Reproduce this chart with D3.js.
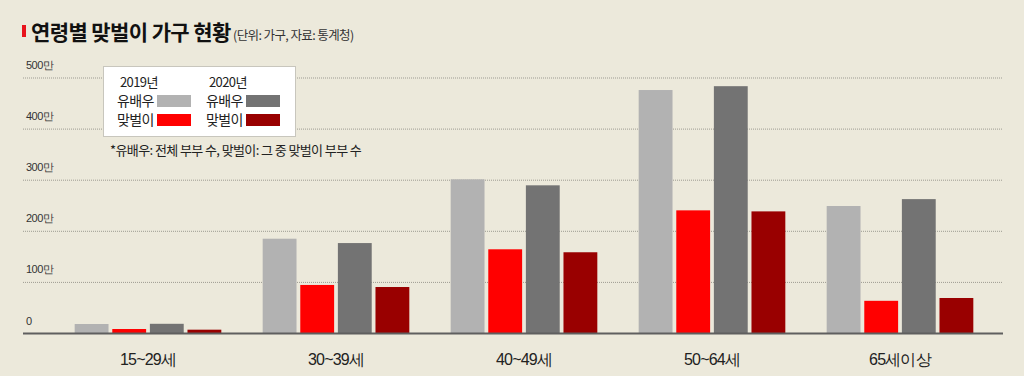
<!DOCTYPE html>
<html>
<head>
<meta charset="utf-8">
<script src="https://cdn.jsdelivr.net/npm/d3@7"></script>
<style>
  body { margin: 0; background: #ECE9DB; }
  svg { display: block; font-family: "Noto Sans CJK KR", "Noto Sans", sans-serif; }
</style>
</head>
<body>
<div class="chart"></div>
<script>
// data (단위: 만 가구)
const categories = ["15~29세", "30~39세", "40~49세", "50~64세", "65세이상"];
const series = ["유배우2019", "맞벌이2019", "유배우2020", "맞벌이2020"];
const married2019 = [17.6, 184.5, 300.8, 475.5, 248.5];
const dual2019 = [7.8, 94, 163.8, 240, 63];
const married2020 = [18, 176, 289, 483, 262];
const dual2020 = [6.5, 90, 158, 238, 68.5];
const yTicks = [0, 100, 200, 300, 400, 500];
const colors = ["#B2B2B2", "#FF0000", "#737373", "#990000"];

const rows = categories.map((c, i) => ({
    cat: c,
    values: [married2019[i], dual2019[i], married2020[i], dual2020[i]]
}));

// size
const w = 1024, h = 376;
const gridLeft = 23, gridRight = 1003, baseY = 333;

const svg = d3.select("div.chart")
    .append("svg")
    .attr("width", w)
    .attr("height", h);

svg.append("rect")
    .attr("width", w).attr("height", h)
    .attr("fill", "#ECE9DB");

// scales
const x0 = d3.scaleBand()
    .domain(categories)
    .range([54, 994])
    .paddingInner(0.22)
    .paddingOuter(0.11);

const x1 = d3.scaleBand()
    .domain(series)
    .range([0, x0.bandwidth()])
    .paddingInner(0.1);

const yScale = d3.scaleLinear()
    .domain([0, 500])
    .range([baseY, 77.5]);

// grid + tick labels
const yAxis = d3.axisLeft(yScale)
    .tickValues(yTicks)
    .tickSize(-(gridRight - gridLeft))
    .tickFormat(d => d === 0 ? "0" : d + "만");

const gy = svg.append("g")
    .attr("transform", "translate(" + gridLeft + ",0)")
    .call(yAxis);
gy.select(".domain").remove();
gy.selectAll(".tick line")
    .attr("stroke", "#9d9b92")
    .attr("stroke-width", 1)
    .attr("stroke-dasharray", "1,1");
gy.selectAll(".tick text")
    .attr("x", 3)
    .attr("dy", -9)
    .attr("text-anchor", "start")
    .attr("fill", "#333")
    .style("font-size", "11px")
    .style("letter-spacing", "-0.5px");

// bars
const groups = svg.selectAll("g.group")
    .data(rows)
    .enter()
    .append("g")
    .attr("class", "group")
    .attr("transform", d => "translate(" + x0(d.cat) + ",0)");

groups.selectAll("rect")
    .data(d => d.values.map((v, i) => ({ key: series[i], v: v, i: i })))
    .enter()
    .append("rect")
    .attr("x", d => x1(d.key))
    .attr("y", d => yScale(d.v))
    .attr("width", x1.bandwidth())
    .attr("height", d => baseY - yScale(d.v))
    .attr("fill", d => colors[d.i]);

// baseline
svg.append("line")
    .attr("x1", gridLeft).attr("x2", gridRight)
    .attr("y1", baseY + 0.5).attr("y2", baseY + 0.5)
    .attr("stroke", "#5f5f5f")
    .attr("stroke-width", 2);

// category labels
const xAxis = d3.axisBottom(x0).tickSize(0);
const gx = svg.append("g")
    .attr("transform", "translate(0," + baseY + ")")
    .call(xAxis);
gx.select(".domain").remove();
gx.selectAll(".tick text")
    .attr("y", 21)
    .attr("fill", "#222")
    .style("font-size", "16px")
    .style("letter-spacing", "-0.8px");

// title
svg.append("rect")
    .attr("x", 22).attr("y", 25)
    .attr("width", 4).attr("height", 12)
    .attr("fill", "#E8141C");
svg.append("text")
    .attr("x", 31).attr("y", 40)
    .attr("fill", "#111")
    .style("font-size", "21px")
    .style("font-weight", "bold")
    .style("letter-spacing", "-0.6px")
    .text("연령별 맞벌이 가구 현황");
svg.append("text")
    .attr("x", 233).attr("y", 40)
    .attr("fill", "#333")
    .style("font-size", "12.5px")
    .style("letter-spacing", "-0.6px")
    .text("(단위: 가구, 자료: 통계청)");

// legend
const lg = svg.append("g");
lg.append("rect")
    .attr("x", 103.5).attr("y", 66.5)
    .attr("width", 192).attr("height", 70)
    .attr("fill", "#fff")
    .attr("stroke", "#c8c6bd");

const years = ["2019년", "2020년"];
const legendNames = ["유배우", "맞벌이"];
years.forEach((yr, j) => {
    const lx = 117 + j * 89;
    lg.append("text")
        .attr("x", lx + 3).attr("y", 87)
        .attr("fill", "#222")
        .style("font-size", "13px")
        .style("letter-spacing", "-0.6px")
        .text(yr);
    legendNames.forEach((nm, k) => {
        lg.append("text")
            .attr("x", lx).attr("y", 106 + k * 19)
            .attr("fill", "#222")
            .style("font-size", "14px")
            .style("letter-spacing", "-0.6px")
            .text(nm);
        lg.append("rect")
            .attr("x", lx + 40).attr("y", 95 + k * 19)
            .attr("width", 34).attr("height", 12)
            .attr("fill", colors[j * 2 + k]);
    });
});

svg.append("text")
    .attr("x", 110).attr("y", 155)
    .attr("fill", "#222")
    .style("font-size", "13px")
    .style("letter-spacing", "-0.6px")
    .text("*유배우: 전체 부부 수, 맞벌이: 그 중 맞벌이 부부 수");
</script>
</body>
</html>
